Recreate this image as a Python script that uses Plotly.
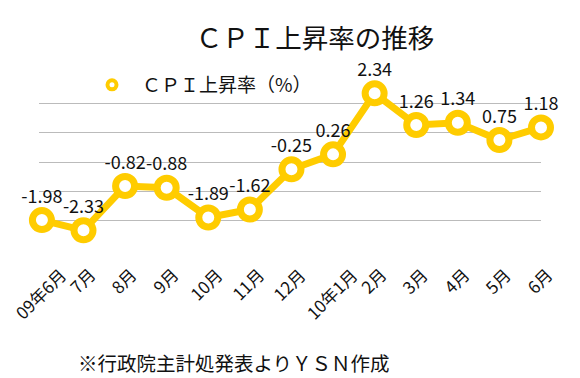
import plotly.graph_objects as go

categories = ["09年6月", "7月", "8月", "9月", "10月", "11月", "12月",
              "10年1月", "2月", "3月", "4月", "5月", "6月"]
cpi_values = [-1.98, -2.33, -0.82, -0.88, -1.89, -1.62, -0.25,
              0.26, 2.34, 1.26, 1.34, 0.75, 1.18]
value_labels = ["-1.98", "-2.33", "-0.82", "-0.88", "-1.89", "-1.62", "-0.25",
                "0.26", "2.34", "1.26", "1.34", "0.75", "1.18"]
series_name = "ＣＰＩ上昇率（%）"
title_text = "ＣＰＩ上昇率の推移"
note_text = "※行政院主計処発表よりＹＳＮ作成"

# page has an 8px body margin; size figure to fit the 580x378 window
O = 8
W, H = 580 - O, 378 - O
YELLOW = "#FFCC00"
FONT = "Noto Sans CJK JP"

# plot area in page pixels
PX0, PX1, PY0, PY1 = 39, 541, 74, 250
l = PX0 - O
t = PY0 - O
pw = PX1 - PX0
ph = PY1 - PY0
r = W - l - pw
b = H - t - ph


def px_x(x):
    return (x - PX0) / pw


def px_y(y):
    return (PY1 - y) / ph


fig = go.Figure()
fig.add_trace(go.Scatter(
    x=list(range(len(categories))), y=cpi_values,
    mode="lines+markers+text",
    text=value_labels, textposition="top center",
    textfont=dict(family=FONT, size=18, color="#111111"),
    line=dict(color=YELLOW, width=7),
    marker=dict(symbol="circle", size=19, color="white",
                line=dict(color=YELLOW, width=7)),
    cliponaxis=False, showlegend=False, name=series_name,
))
# legend-only entry (marker symbol only)
fig.add_trace(go.Scatter(
    x=[None], y=[None], mode="markers", name=series_name,
    marker=dict(symbol="circle", size=9, color="white",
                line=dict(color=YELLOW, width=4)),
    showlegend=True,
))

# rotated category labels, centred under each category (Excel style)
tick_annotations = [dict(
    text=c, xref="x", x=i, yref="paper", y=px_y(261),
    xanchor="center", yanchor="top", xshift=-2, textangle=-45,
    showarrow=False, borderpad=0,
    font=dict(family=FONT, size=17, color="#111111"),
) for i, c in enumerate(categories)]

fig.update_layout(
    width=W, height=H,
    margin=dict(l=l, r=r, t=t, b=b, pad=0, autoexpand=False),
    paper_bgcolor="white", plot_bgcolor="white",
    font=dict(family=FONT, color="#111111"),
    title=dict(text=title_text, x=(315 - O) / W, xanchor="center",
               y=1 - (39 - O) / H, yanchor="middle",
               font=dict(family=FONT, size=26.5, color="#111111")),
    showlegend=True,
    legend=dict(x=px_x(82), xanchor="left", y=px_y(85), yanchor="middle",
                bgcolor="rgba(0,0,0,0)", borderwidth=0,
                font=dict(family=FONT, size=19, color="#111111"),
                itemwidth=50),
    xaxis=dict(
        tickmode="array", tickvals=list(range(len(categories))),
        ticktext=categories, showticklabels=False, automargin=False,
        range=[-0.07, len(categories) - 1],
        showgrid=False, zeroline=False, showline=False, ticks="",
    ),
    yaxis=dict(
        range=[-3, 3], dtick=1, showgrid=True, gridcolor="#BBBBBB",
        gridwidth=1, zeroline=False, showline=False, showticklabels=False,
        ticks="", automargin=False,
    ),
    annotations=tick_annotations + [dict(
        text=note_text, xref="paper", yref="paper",
        x=px_x(76), xanchor="left",
        y=px_y(362), yanchor="middle",
        showarrow=False, font=dict(family=FONT, size=19.5, color="#111111"),
    )],
)

fig.write_html("out.html")
